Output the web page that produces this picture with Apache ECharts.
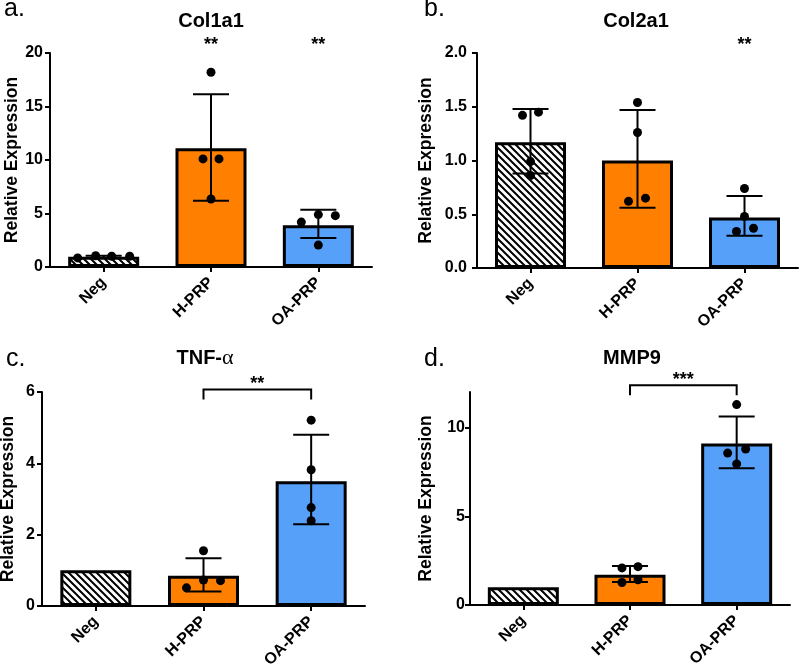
<!DOCTYPE html>
<html><head><meta charset="utf-8">
<script src="https://cdn.jsdelivr.net/npm/echarts@6/dist/echarts.min.js"></script>
<style>html,body{margin:0;padding:0;background:#fff}#c{width:800px;height:668px}</style>
</head><body><div id="c"></div>
<script>
// ---------- data ----------
const categories = ['Neg', 'H-PRP', 'OA-PRP'];
const panelTitles = ['Col1a1', 'Col2a1', 'TNF-α', 'MMP9'];
const panelLetters = ['a.', 'b.', 'c.', 'd.'];
const yAxisTitle = 'Relative Expression';

// a. Col1a1
const meanA = [0.95, 11.1, 3.9];
const errLowA = [0.85, 6.2, 2.7];
const errHighA = [1.05, 16.15, 5.35];
const pointsA = [[0.85, 1.05, 1.0, 1.0], [18.2, 10.1, 10.1, 6.35], [4.2, 4.9, 4.8, 2.05]];
const sigA = ['', '**', '**'];
const yTicksA = [0, 5, 10, 15, 20];

// b. Col2a1
const meanB = [1.17, 1.0, 0.47];
const errLowB = [0.88, 0.56, 0.30];
const errHighB = [1.48, 1.47, 0.67];
const pointsB = [[1.42, 1.45, 0.99, 0.86], [1.54, 1.26, 0.62, 0.65], [0.74, 0.48, 0.34, 0.37]];
const sigB = ['', '', '**'];
const yTicksB = [0, 0.5, 1.0, 1.5, 2.0];

// c. TNF-alpha
const meanC = [1.0, 0.85, 3.5];
const errLowC = [null, 0.41, 2.29];
const errHighC = [null, 1.34, 4.8];
const pointsC = [[], [1.55, 0.73, 0.71, 0.51], [5.21, 3.82, 2.76, 2.39]];
const bracketC = { from: 1, to: 2, level: 6.07, text: '**' };
const yTicksC = [0, 2, 4, 6];

// d. MMP9
const meanD = [1.0, 1.7, 9.1];
const errLowD = [null, 1.29, 7.71];
const errHighD = [null, 2.2, 10.62];
const pointsD = [[], [2.09, 2.16, 1.27, 1.42], [11.29, 8.56, 8.79, 7.95]];
const bracketD = { from: 1, to: 2, level: 12.38, text: '***' };
const yTicksD = [0, 5, 10];

// ---------- layout / style ----------
const FONT = '"Liberation Sans", Arial, sans-serif';
const ORANGE = '#FF8000';
const BLUE = '#56A0FA';

const jitterA = [[-26, -8, 8, 26], [0, -8, 8, 0], [-17, 0, 17, 0]];
const jitterB = [[-8, 8, 0, 0], [0, 0, -9, 8], [0, 0, -8, 9]];
const jitterC = [[], [0, 0, 17, -17], [0, 0, 0, 0]];
const jitterD = [[], [-8, 8, -8, 8], [0, -9, 9, 0]];

function makeHatch() {
  const s = 7, c = document.createElement('canvas');
  c.width = s; c.height = s;
  const g = c.getContext('2d');
  g.fillStyle = '#fff'; g.fillRect(0, 0, s, s);
  g.strokeStyle = '#000'; g.lineWidth = 2;
  g.beginPath();
  for (let k = -1; k <= 1; k++) { g.moveTo(-1, k * s - 1); g.lineTo(s + 1, s + k * s + 1); }
  g.stroke();
  return c;
}
const hatch = { image: makeHatch(), repeat: 'repeat' };
const fills = [hatch, ORANGE, BLUE];

const panels = [
  { grid: { left: 50, top: 53, width: 322, height: 214 }, mean: meanA, lo: errLowA, hi: errHighA, pts: pointsA, jit: jitterA, ticks: yTicksA, max: 20, sig: sigA, nameGap: 27, labelMargin: 7, fmt: v => String(v) },
  { grid: { left: 477, top: 53, width: 321, height: 215 }, mean: meanB, lo: errLowB, hi: errHighB, pts: pointsB, jit: jitterB, ticks: yTicksB, max: 2, sig: sigB, nameGap: 42, labelMargin: 10, fmt: v => Number(v).toFixed(1) },
  { grid: { left: 42, top: 392, width: 323, height: 214 }, mean: meanC, lo: errLowC, hi: errHighC, pts: pointsC, jit: jitterC, ticks: yTicksC, max: 6, bracket: bracketC, nameGap: 25, labelMargin: 7, fmt: v => String(v) },
  { grid: { left: 470, top: 392, width: 320, height: 213 }, mean: meanD, lo: errLowD, hi: errHighD, pts: pointsD, jit: jitterD, ticks: yTicksD, max: 12, bracket: bracketD, nameGap: 35, labelMargin: 5, fmt: v => String(v) }
];

const grids = [], xAxes = [], yAxes = [], series = [];
const axisLineStyle = { color: '#000', width: 2 };

panels.forEach((p, i) => {
  grids.push(Object.assign({ outerBoundsMode: 'none', containLabel: false }, p.grid));
  xAxes.push({
    gridIndex: i, type: 'category', data: categories,
    axisLine: { show: true, lineStyle: axisLineStyle },
    axisTick: { show: true, alignWithLabel: true, length: 5, lineStyle: axisLineStyle },
    axisLabel: { rotate: 45, margin: 13, color: '#000', fontWeight: 'bold', fontSize: 16, fontFamily: FONT, interval: 0 },
    splitLine: { show: false }
  });
  yAxes.push({
    gridIndex: i, type: 'value', min: p.ticks[0], max: p.max, interval: p.ticks[1] - p.ticks[0],
    axisLine: { show: true, lineStyle: axisLineStyle },
    axisTick: { show: true, length: 5, lineStyle: axisLineStyle, customValues: p.ticks },
    axisLabel: { color: '#000', fontWeight: 'bold', fontSize: 16, fontFamily: FONT, margin: p.labelMargin, customValues: p.ticks, formatter: p.fmt },
    splitLine: { show: false },
    name: yAxisTitle, nameLocation: 'middle', nameGap: p.nameGap,
    nameTextStyle: { color: '#000', fontWeight: 'bold', fontSize: 17.5, fontFamily: FONT }
  });
  // bars
  series.push({
    type: 'bar', xAxisIndex: i, yAxisIndex: i, barWidth: 71, z: 2,
    data: p.mean.map((v, j) => ({ value: v, itemStyle: { color: fills[j] } })),
    itemStyle: { borderColor: '#000', borderWidth: 3 },
    emphasis: { disabled: true }, animation: false
  });
  // error bars
  const errData = [];
  p.mean.forEach((v, j) => { if (p.lo[j] != null) errData.push([j, p.lo[j], p.hi[j]]); });
  series.push({
    type: 'custom', xAxisIndex: i, yAxisIndex: i, z: 3, animation: false,
    encode: { x: 0, y: [1, 2] }, data: errData,
    renderItem: function (params, api) {
      const x = api.value(0);
      const pl = api.coord([x, api.value(1)]), ph = api.coord([x, api.value(2)]);
      const hw = 18, st = { stroke: '#000', lineWidth: 2 };
      return { type: 'group', children: [
        { type: 'line', shape: { x1: pl[0], y1: pl[1], x2: ph[0], y2: ph[1] }, style: st },
        { type: 'line', shape: { x1: pl[0] - hw, y1: pl[1], x2: pl[0] + hw, y2: pl[1] }, style: st },
        { type: 'line', shape: { x1: ph[0] - hw, y1: ph[1], x2: ph[0] + hw, y2: ph[1] }, style: st }
      ]};
    }
  });
  // points
  const ptData = [];
  p.pts.forEach((arr, j) => arr.forEach((v, k) => ptData.push({ value: [j, v], symbolOffset: [p.jit[j][k], 0] })));
  series.push({
    type: 'scatter', xAxisIndex: i, yAxisIndex: i, z: 4, animation: false,
    symbol: 'circle', symbolSize: 9, itemStyle: { color: '#000', opacity: 1 },
    emphasis: { disabled: true }, data: ptData
  });
  // significance
  if (p.sig) {
    const sdata = [];
    p.sig.forEach((s, j) => { if (s) sdata.push([j, p.max, s]); });
    series.push({
      type: 'custom', xAxisIndex: i, yAxisIndex: i, z: 5, animation: false, clip: false,
      encode: { x: 0, y: 1 }, data: sdata,
      renderItem: function (params, api) {
        const c = api.coord([api.value(0), api.value(1)]);
        return { type: 'text', style: { text: p.sig[api.value(0)], x: c[0], y: c[1] - 8, align: 'center', verticalAlign: 'middle', font: 'bold 18px ' + FONT, fill: '#000' } };
      }
    });
  }
  if (p.bracket) {
    const b = p.bracket;
    series.push({
      type: 'custom', xAxisIndex: i, yAxisIndex: i, z: 5, animation: false, clip: false,
      encode: { x: [0, 1], y: 2 }, data: [[b.from, b.to, b.level]],
      renderItem: function (params, api) {
        const p1 = api.coord([api.value(0), api.value(2)]), p2 = api.coord([api.value(1), api.value(2)]);
        const drop = 10;
        return { type: 'group', children: [
          { type: 'polyline', shape: { points: [[p1[0], p1[1] + drop], [p1[0], p1[1]], [p2[0], p2[1]], [p2[0], p2[1] + drop]] }, style: { stroke: '#000', lineWidth: 2, fill: null } },
          { type: 'text', style: { text: b.text, x: (p1[0] + p2[0]) / 2, y: p1[1] - 5, align: 'center', verticalAlign: 'middle', font: 'bold 18px ' + FONT, fill: '#000' } }
        ]};
      }
    });
  }
});

const titleFont = 'bold 20px ' + FONT;
const letterFont = '25px ' + FONT;
const graphics = [
  { type: 'text', x: 211, y: 21, style: { text: panelTitles[0], font: titleFont, align: 'center', verticalAlign: 'middle', fill: '#000' } },
  { type: 'text', x: 636, y: 21, style: { text: panelTitles[1], font: titleFont, align: 'center', verticalAlign: 'middle', fill: '#000' } },
  { type: 'text', x: 205, y: 358, style: { text: '{b|' + panelTitles[2].slice(0, -1) + '}{g|' + panelTitles[2].slice(-1) + '}', align: 'center', verticalAlign: 'middle',
      rich: { b: { font: titleFont, fill: '#000' }, g: { fontFamily: '"Liberation Serif", serif', fontSize: 22, fill: '#000' } } } },
  { type: 'text', x: 632, y: 358, style: { text: panelTitles[3], font: titleFont, align: 'center', verticalAlign: 'middle', fill: '#000' } },
  { type: 'text', x: 4, y: 9.5, style: { text: panelLetters[0], font: letterFont, align: 'left', verticalAlign: 'middle', fill: '#000' } },
  { type: 'text', x: 424, y: 9, style: { text: panelLetters[1], font: letterFont, align: 'left', verticalAlign: 'middle', fill: '#000' } },
  { type: 'text', x: 6, y: 359.5, style: { text: panelLetters[2], font: letterFont, align: 'left', verticalAlign: 'middle', fill: '#000' } },
  { type: 'text', x: 424, y: 359.5, style: { text: panelLetters[3], font: letterFont, align: 'left', verticalAlign: 'middle', fill: '#000' } }
];

const chart = echarts.init(document.getElementById('c'), null, { renderer: 'canvas' });
chart.setOption({
  backgroundColor: '#fff',
  animation: false,
  textStyle: { fontFamily: FONT },
  grid: grids, xAxis: xAxes, yAxis: yAxes, series: series,
  graphic: graphics,
  tooltip: { show: false }
});
</script></body></html>
